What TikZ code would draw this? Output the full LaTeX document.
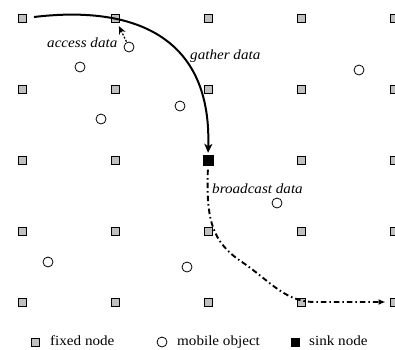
\documentclass[tikz,border=0pt]{standalone}
\usepackage{fontspec}
\setmainfont{Liberation Serif}
\usetikzlibrary{arrows.meta}
\definecolor{nodegray}{RGB}{192,192,192}
\newcommand\widetext[1]{\scalebox{1.08}[1]{#1}}
\begin{document}
\begin{tikzpicture}[x=1pt,y=-1pt,
  fixed/.style={draw=black,fill=nodegray,line width=0.8pt,minimum size=8.2pt,inner sep=0pt},
  mobile/.style={circle,draw=black,fill=white,line width=0.8pt,minimum size=10pt,inner sep=0pt},
  sinkbox/.style={fill=black,minimum size=11pt,inner sep=0pt},
  lab/.style={font=\fontsize{14}{16}\selectfont\itshape,anchor=base west,inner sep=0pt},
  leg/.style={font=\fontsize{14}{16}\selectfont,anchor=base west,inner sep=0pt}]
\useasboundingbox (0,0) rectangle (395,349);
\clip (0,0) rectangle (395,349);
% grid of fixed nodes
\foreach \x [count=\i] in {22,115,208,301,394}
  \foreach \y [count=\j] in {18,89,160,231,302}
    \node[fixed] (f\i\j) at (\x,\y) {};
% sink
\node[sinkbox] (sink) at (208,160) {};
% mobile objects
\node[mobile] (m1) at (129,47) {};
\node[mobile] (m2) at (80,67) {};
\node[mobile] (m3) at (180,106) {};
\node[mobile] (m4) at (101,119) {};
\node[mobile] (m5) at (359,70) {};
\node[mobile] (m6) at (277,203) {};
\node[mobile] (m7) at (48,262) {};
\node[mobile] (m8) at (187,267) {};
% gather data
\coordinate (g0) at (34,17);
\draw[line width=2pt,-{Stealth[length=9pt,width=8pt,inset=2.5pt]},shorten >=1.5pt]
  (g0) .. controls (125,6) and (212,30) .. (sink.north);
% access data
\draw[line width=1.2pt,dash pattern=on 2pt off 1.5pt,-{Stealth[length=8pt,width=7pt]},shorten >=4pt,shorten <=0.5pt]
  (m1) -- (f21);
% broadcast data
\draw[line width=1.9pt,dash pattern=on 5.5pt off 3pt on 1.5pt off 3pt,-{Latex[length=7pt,width=6pt]},shorten >=4pt,shorten <=4pt]
  (sink.south) .. controls (206,220) and (212,242) .. (242,262)
  .. controls (270,281) and (285,302) .. (315,302) -- (f55.west);
% labels
\node[lab] (la) at (47,47) {\widetext{access data}};
\node[lab] (lg) at (190,59) {\widetext{gather data}};
\node[lab] (lb) at (212,193) {\widetext{broadcast data}};
% legend
\node[fixed] (k1) at (35,342) {};
\node[leg] (t1) at (50,345.5) {\widetext{fixed node}};
\node[mobile] (k2) at (162,342) {};
\node[leg] (t2) at (177,345.5) {\widetext{mobile object}};
\node[sinkbox,minimum size=9pt] (k3) at (295,342) {};
\node[leg] (t3) at (309,345.5) {\widetext{sink node}};
\end{tikzpicture}
\end{document}
